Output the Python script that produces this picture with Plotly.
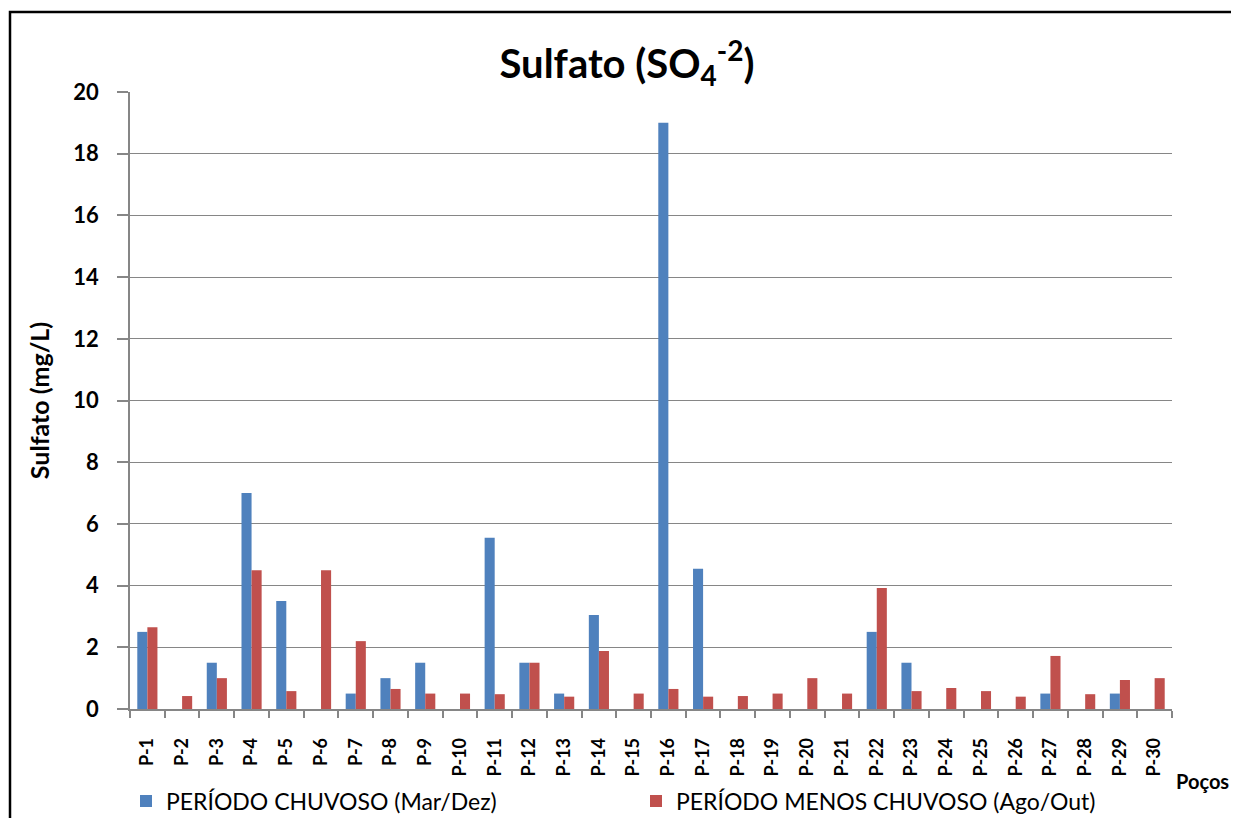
import plotly.graph_objects as go

categories = [f"P-{i}" for i in range(1, 31)]
chuvoso = [2.5, 0, 1.5, 7.0, 3.5, 0, 0.5, 1.0, 1.5, 0,
           5.55, 1.5, 0.5, 3.05, 0, 19.0, 4.55, 0, 0, 0,
           0, 2.5, 1.5, 0, 0, 0, 0.5, 0, 0.5, 0]
menos_chuvoso = [2.65, 0.42, 1.0, 4.5, 0.58, 4.5, 2.2, 0.65, 0.5, 0.5,
                 0.48, 1.5, 0.4, 1.88, 0.5, 0.65, 0.4, 0.42, 0.5, 1.0,
                 0.5, 3.92, 0.58, 0.68, 0.58, 0.4, 1.72, 0.48, 0.94, 1.0]
y_ticks = list(range(0, 21, 2))

FONT = "Lato, 'Open Sans', sans-serif"
GRID = "#868686"
OFF = 8  # page body margin

# page-pixel layout of the plot area
PL, PR, PT, PB = 130, 1172, 92, 709
W, H = 1239 - 2 * OFF, 826 - 2 * OFF
L, T = PL - OFF, PT - OFF
R, B = PR - OFF, PB - OFF


def px(xp):
    return (xp - PL) / (PR - PL)


def py(yp):
    return (PB - yp) / (PB - PT)


fig = go.Figure()
fig.add_trace(go.Bar(x=categories, y=chuvoso, name="PERÍODO CHUVOSO (Mar/Dez)",
                     marker=dict(color="#4F81BD", line=dict(width=0)), legend="legend"))
fig.add_trace(go.Bar(x=categories, y=menos_chuvoso, name="PERÍODO MENOS CHUVOSO (Ago/Out)",
                     marker=dict(color="#C0504D", line=dict(width=0)), legend="legend2"))

legend_common = dict(orientation="h", xanchor="left", yanchor="middle",
                     font=dict(size=23, family=FONT, color="black"),
                     bgcolor="rgba(0,0,0,0)", borderwidth=0)

fig.update_layout(
    width=W, height=H,
    margin=dict(l=L, r=W - R, t=T, b=H - B, pad=0, autoexpand=False),
    paper_bgcolor="white", plot_bgcolor="white",
    barmode="group", bargap=0.42, bargroupgap=0,
    font=dict(family=FONT, color="black"),
    title=dict(text="<b>Sulfato (SO<sub>4</sub><sup>-2</sup>)</b>",
               x=(627 - OFF) / W, xanchor="center", y=1 - (64 - OFF) / H, yanchor="middle",
               font=dict(size=40, family=FONT, color="black")),
    showlegend=True,
    legend=dict(x=px(126), y=py(801), **legend_common),
    legend2=dict(x=px(636), y=py(801), **legend_common),
    xaxis=dict(type="category", tickangle=-90, showgrid=False,
               showline=True, linecolor=GRID, linewidth=1.5,
               ticks="outside", tickson="boundaries", ticklen=7, tickcolor=GRID, tickwidth=1.5,
               tickfont=dict(size=18, family=FONT, color="black", weight="bold"),
               ticklabelstandoff=20),
    yaxis=dict(range=[0, 20], tickvals=y_ticks, showgrid=True, gridcolor=GRID, gridwidth=1.3,
               showline=True, linecolor=GRID, linewidth=1.5, zeroline=False,
               ticks="outside", ticklen=11, tickcolor=GRID, tickwidth=1.5,
               tickfont=dict(size=22, family=FONT, color="black", weight="bold"),
               ticklabelstandoff=14,
               title=dict(text="<b>Sulfato (mg/L)</b>", standoff=17,
                          font=dict(size=25, family=FONT, color="black"))),
)

fig.add_annotation(text="<b>Poços</b>", xref="paper", yref="paper",
                   x=px(1174), y=py(781),
                   xanchor="left", yanchor="middle", showarrow=False,
                   font=dict(size=20, family=FONT, color="black"))

fig.add_shape(type="rect", xref="paper", yref="paper",
              x0=px(10), x1=px(1400), y0=py(12), y1=py(1000),
              line=dict(color="black", width=2.5), fillcolor="rgba(0,0,0,0)", layer="above")

fig.write_html("out.html")
